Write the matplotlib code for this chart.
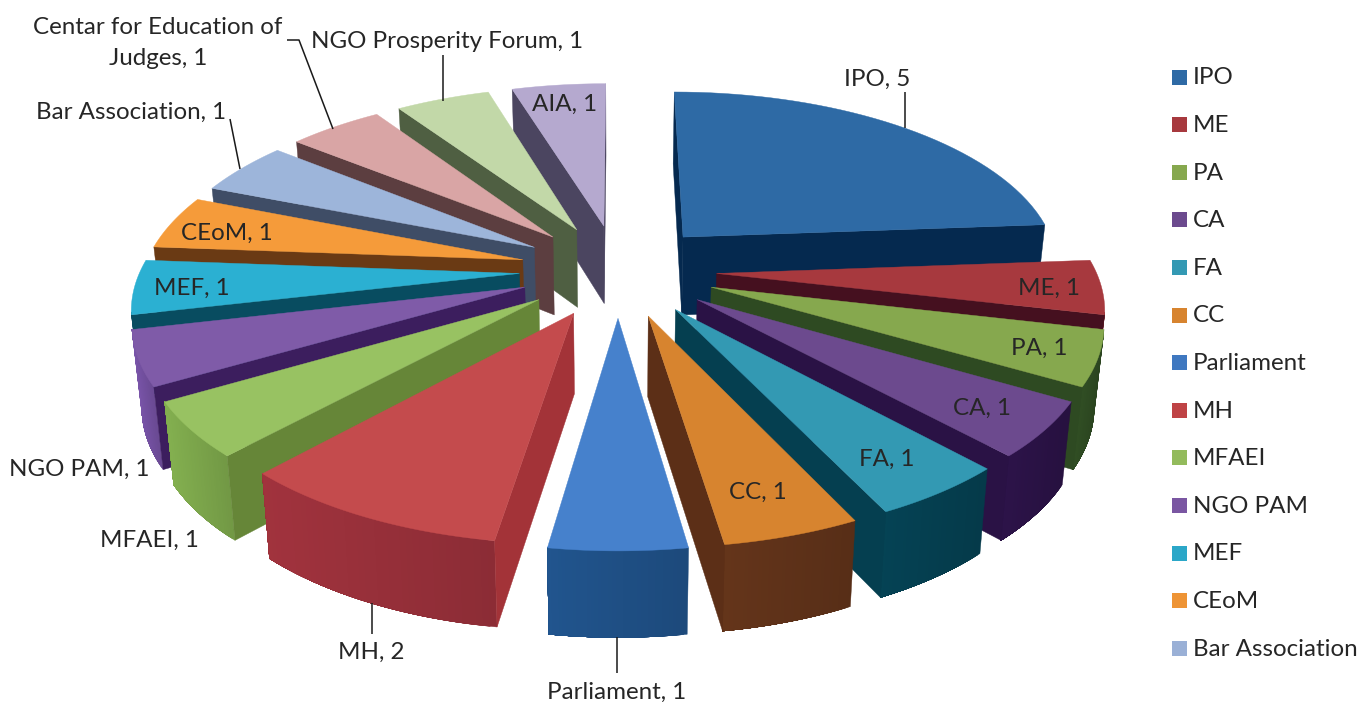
"""Exploded perspective pie of institutions, drawn as polygons in pixel space."""

import matplotlib

matplotlib.use("Agg")

import matplotlib.pyplot as plt
import numpy as np
from matplotlib.colors import to_rgb
from matplotlib.patches import Polygon, Rectangle

CATEGORIES = [
    "IPO", "ME", "PA", "CA", "FA", "CC", "Parliament", "MH", "MFAEI", "NGO PAM",
    "MEF", "CEoM", "Bar Association", "Centar for Education of Judges",
    "NGO Prosperity Forum", "AIA",
]
VALUES = [5, 1, 1, 1, 1, 1, 1, 2, 1, 1, 1, 1, 1, 1, 1, 1]
LEGEND_ENTRIES = CATEGORIES[:13]

TOP_COLORS = [
    "#2e6aa5", "#a7393e", "#86a84e", "#6c4a8e", "#3399b3", "#d7842f", "#4681cc", "#c44b4d",
    "#98c262", "#7f5ba8", "#2bb0d2", "#f59b3a", "#9db5da", "#d9a5a5", "#c2d8a8", "#b5a9cf",
]
RADIAL_COLORS = [
    "#05294f", "#45101f", "#2e4a22", "#2a1245", "#053f50", "#5c2f17", "#1b4a7a", "#a33338",
    "#668638", "#3c1e5e", "#084c60", "#6a3a14", "#3f4d66", "#5c3e40", "#4f5f42", "#4b4560",
]
OUTER_COLORS = [
    "#05294f", "#8b2a30", "#2e4a22", "#2a1245", "#053f50", "#5f3219", "#1f5086", "#98303a",
    "#7ca64b", "#7350a0", "#084c60", "#6a3a14", "#3f4d66", "#5c3e40", "#4f5f42", "#4b4560",
]
LEGEND_COLORS = TOP_COLORS[:6] + ["#3f78c0", "#bf4345", "#93bb5c", "#7a56a2", "#2ba7c8", "#ee9435", "#9ab0d6"]

# text, x, y
LABELS = [
    ("IPO, 5", 877, 79),
    ("ME, 1", 1049, 288),
    ("PA, 1", 1039, 348),
    ("CA, 1", 982, 408),
    ("FA, 1", 887, 459),
    ("CC, 1", 758, 492),
    ("Parliament, 1", 617, 692),
    ("MH, 2", 371, 652),
    ("MFAEI, 1", 149, 540),
    ("NGO PAM, 1", 79, 469),
    ("MEF, 1", 192, 288),
    ("CEoM, 1", 227, 233),
    ("Bar Association, 1", 131, 112),
    ("Centar for Education of\nJudges, 1", 158, 43),
    ("NGO Prosperity Forum, 1", 447, 41),
    ("AIA, 1", 565, 104),
]
LEADERS = [
    ([905, 905], [92, 128]),
    ([617, 617], [637, 673]),
    ([372, 372], [603, 634]),
    ([230, 240], [119, 169]),
    ([287, 299, 333], [40, 40, 129]),
    ([443, 443], [55, 101]),
]

CENTER_X = 618
CENTER_Y = 270
RADIUS_X = 379
RADIUS_Y = 178
PERSPECTIVE = 0.16
EXPLODE = 0.26
TEXT_COLOR = "#262626"


def project(u, v):
    w = 1 - PERSPECTIVE * v
    return CENTER_X + RADIUS_X * u / w, CENTER_Y + RADIUS_Y * v / w


def drop(x, y, v):
    # lower rim of the slab: same point pushed down, pulled in a little
    return CENTER_X + (x - CENTER_X) * 0.98, y + 79 + 6 * v


def shade(color, factor):
    return tuple(min(1.0, c * factor) for c in to_rgb(color))


def radial_visible(off_u, off_v, edge_u, edge_v, inner_u, inner_v):
    # the wall shows only when the camera sits on the other side of it from the slice
    cross_inner = (edge_u - off_u) * (inner_v - off_v) - (edge_v - off_v) * (inner_u - off_u)
    cross_camera = (edge_u - off_u) * (1 / PERSPECTIVE - off_v) - (edge_v - off_v) * (0 - off_u)
    return cross_inner * cross_camera < 0


def draw_slice(ax, start, end, top, radial, outer):
    mid = (start + end) / 2
    off_u, off_v = EXPLODE * np.sin(mid), -EXPLODE * np.cos(mid)
    angles = np.linspace(start, end, 40)
    u = off_u + np.sin(angles)
    v = off_v - np.cos(angles)
    tip_x, tip_y = project(off_u, off_v)
    rim_x, rim_y = project(u, v)
    low_x, low_y = drop(rim_x, rim_y, v)
    tip_low = drop(tip_x, tip_y, off_v)
    tip = (tip_x, tip_y)

    # curved wall, where it faces the camera; each strip runs on to the end to avoid seams
    facing = -u * np.sin(angles) + (1 / PERSPECTIVE - v) * -np.cos(angles) > 0
    front = np.flatnonzero(facing)
    span = max(np.ptp(rim_x), 1)
    for a, b in zip(front[:-1], front[1:]):
        run = front[front >= a]
        strip = list(zip(rim_x[run], rim_y[run])) + list(zip(low_x[run][::-1], low_y[run][::-1]))
        # gets a bit darker towards the right
        color = shade(outer, 1.06 - 0.14 * (rim_x[a] - rim_x.min()) / span)
        ax.add_patch(Polygon(strip, facecolor=color, edgecolor=color, linewidth=0.3))

    inner_u, inner_v = u[len(u) // 2], v[len(v) // 2]
    for i in (0, -1):
        if radial_visible(off_u, off_v, u[i], v[i], inner_u, inner_v):
            wall = [tip, (rim_x[i], rim_y[i]), (low_x[i], low_y[i]), tip_low]
            ax.add_patch(Polygon(wall, facecolor=radial, edgecolor=radial, linewidth=0.3))

    face = [tip] + list(zip(rim_x, rim_y))
    ax.add_patch(Polygon(face, facecolor=top, edgecolor=top, linewidth=0.3))


def main():
    plt.rcParams["font.family"] = ["Lato", "DejaVu Sans"]
    fig = plt.figure(figsize=(13.59, 7.02), dpi=100)
    ax = fig.add_axes([0, 0, 1, 1])
    ax.set_xlim(0, 1359)
    ax.set_ylim(702, 0)
    ax.axis("off")

    edges = np.cumsum([0] + VALUES) / sum(VALUES) * 2 * np.pi
    mids = (edges[:-1] + edges[1:]) / 2
    # back slices first so the nearer ones paint over them
    for i in np.argsort(-np.cos(mids)):
        draw_slice(ax, edges[i], edges[i + 1], TOP_COLORS[i], RADIAL_COLORS[i], OUTER_COLORS[i])

    for xs, ys in LEADERS:
        ax.plot(xs, ys, color="#1a1a1a", linewidth=1.1, solid_capstyle="butt")

    for text, x, y in LABELS:
        ax.text(x, y, text, ha="center", va="center", fontsize=17.4, color=TEXT_COLOR, linespacing=1.55)

    for i, (name, color) in enumerate(zip(LEGEND_ENTRIES, LEGEND_COLORS)):
        y = 77 + i * 47.6
        ax.add_patch(Rectangle((1172, y - 7.5), 15, 15, facecolor=color, edgecolor="none"))
        ax.text(1193, y + 1, name, ha="left", va="center", fontsize=17.4, color=TEXT_COLOR)

    fig.savefig("out.png", dpi=100, facecolor="white")
    plt.close(fig)


if __name__ == "__main__":
    main()
